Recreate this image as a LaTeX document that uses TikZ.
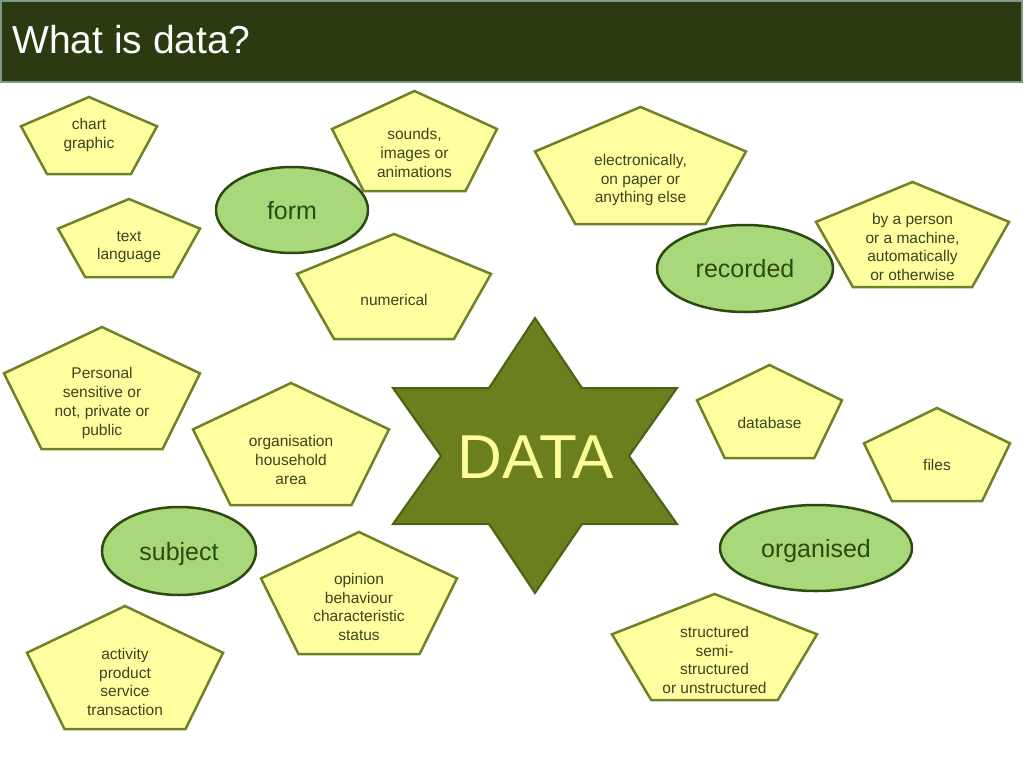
\documentclass[tikz,border=0pt]{standalone}
\usepackage{fontspec}
\setmainfont{Liberation Sans}
\usetikzlibrary{shapes.geometric}
\definecolor{titlebg}{HTML}{2B3A10}
\definecolor{titleedge}{HTML}{7E9A86}
\definecolor{pentfill}{HTML}{FFFFA0}
\definecolor{pentedge}{HTML}{6E8228}
\definecolor{penttext}{HTML}{3A4520}
\definecolor{ellfill}{HTML}{A8D87A}
\definecolor{elledge}{HTML}{2D4A10}
\definecolor{elltext}{HTML}{2D4A10}
\definecolor{starfill}{HTML}{6B7F1F}
\definecolor{staredge}{HTML}{4A6014}
\definecolor{startext}{HTML}{FFFF99}
\tikzset{
  pentstyle/.style={fill=pentfill, draw=pentedge, line width=2.5pt},
  penttxt/.style={align=center, inner sep=0pt, text=penttext, font=\fontsize{15.5}{18.7}\selectfont},
  ellnode/.style={ellipse, fill=ellfill, draw=elledge, line width=2.5pt, inner sep=0pt,
    text=elltext, font=\fontsize{25}{30}\selectfont, text height=18.2pt, text depth=0pt},
}
\newcommand\pentbox[7]{%
  \pgfmathsetmacro\pcx{(#2+#3)/2}%
  \pgfmathsetmacro\phw{(#3-#2)/2}%
  \pgfmathsetmacro\psy{#4+0.38*(#5-#4)}%
  \draw[pentstyle] (\pcx,#4) -- (#3,\psy) -- ({\pcx+0.618*\phw},#5) -- ({\pcx-0.618*\phw},#5) -- (#2,\psy) -- cycle;
  \node[penttxt] (#1) at (\pcx,#6) {#7};
}
\begin{document}
\begin{tikzpicture}[x=1pt,y=-1pt]
\useasboundingbox (0,0) rectangle (1024,768);
\fill[white] (0,0) rectangle (1024,768);
% title bar
\draw[fill=titlebg, draw=titleedge, line width=2pt] (1,1) rectangle (1022,82);
\node[anchor=base west, inner sep=0pt, text=white, font=\fontsize{39}{45}\selectfont] (title) at (12,54) {What is data?};
% pentagons
\pentbox{p1}{21}{157}{97}{174}{135}{chart\\graphic}
\pentbox{p2}{332}{497}{91}{191}{153}{sounds,\\images or\\animations}
\pentbox{p3}{535}{746}{107}{224}{180}{electronically,\\on paper or\\anything else}
\pentbox{p4}{297}{491}{234}{339}{300}{numerical}
\pentbox{p5}{58}{200}{199}{277}{247}{text\\language}
\pentbox{p6}{816}{1009}{182}{287}{247}{by a person\\or a machine,\\automatically\\or otherwise}
\pentbox{p7}{697}{842}{365}{458}{423}{database}
\pentbox{p8}{864}{1010}{408}{501}{465}{files}
\pentbox{p9}{4}{200}{327}{449}{403}{Personal\\sensitive or\\not, private or\\public}
\pentbox{p10}{193}{389}{383}{505}{460}{organisation\\household\\area}
\pentbox{p11}{261}{457}{532}{654}{607}{opinion\\behaviour\\characteristic\\status}
\pentbox{p12}{27}{223}{606}{729}{682}{activity\\product\\service\\transaction}
\pentbox{p13}{612}{817}{594}{700}{660}{structured\\semi-\\structured\\or unstructured}
% ellipses
\node[ellnode, minimum width=152pt, minimum height=86pt] (form) at (292,210) {form};
\node[ellnode, minimum width=176pt, minimum height=87pt] (recorded) at (745,268.5) {recorded};
\node[ellnode, minimum width=154pt, minimum height=88pt] (subject) at (179,551) {subject};
\node[ellnode, minimum width=192pt, minimum height=86pt] (organised) at (816,548) {organised};
% star
\draw[fill=starfill, draw=staredge, line width=2pt, line join=miter]
  (535,318) -- (582,388) -- (677,388) -- (629,456) -- (677,524) -- (582,524) --
  (535,593) -- (489,524) -- (393,524) -- (441,456) -- (393,388) -- (489,388) -- cycle;
\node[anchor=base, inner sep=0pt, text=startext, font=\fontsize{62}{70}\selectfont] (data) at (536,478) {DATA};
\end{tikzpicture}
\end{document}
